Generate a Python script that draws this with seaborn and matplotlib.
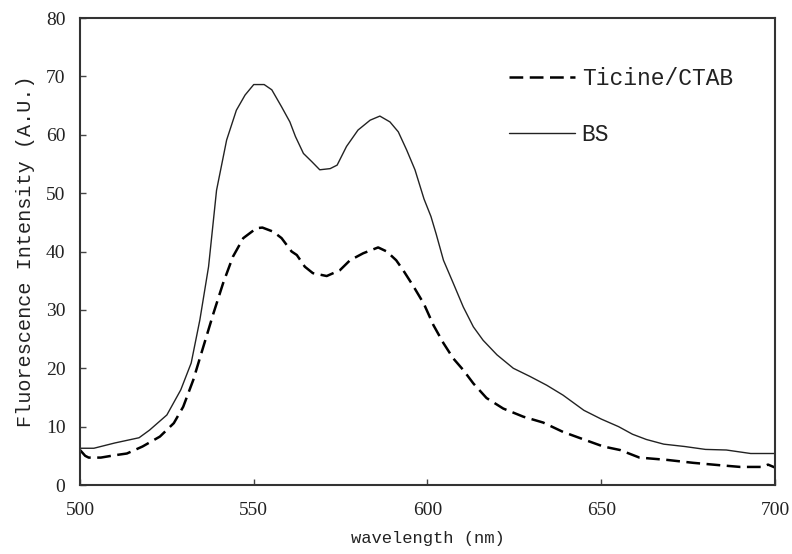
import matplotlib
matplotlib.use("Agg")
import matplotlib.pyplot as plt
import seaborn as sns
import pandas as pd

# Emission spectra (wavelength in nm, intensity in A.U.)
bs_wavelength = [500, 504, 510, 517, 520, 525, 529, 532, 534.5, 537, 539.3, 542.2, 545,
                 547.5, 550, 553, 555.2, 558, 560.4, 562, 564.3, 566.7, 569, 572, 574,
                 576.7, 580, 583.5, 586.3, 589.2, 591.6, 594, 596.4, 599, 601, 602.5,
                 604.6, 607.4, 610.3, 613.2, 616, 620, 624.7, 629.5, 634.3, 639, 645,
                 650, 655, 659, 663, 668, 674, 680, 686, 693, 700]
bs_intensity = [6.3, 6.3, 7.2, 8.1, 9.4, 12.0, 16.3, 20.9, 28.3, 37.4, 50.5, 59.1, 64.2,
                66.8, 68.6, 68.6, 67.7, 64.8, 62.2, 59.7, 56.8, 55.4, 54.0, 54.2, 54.8,
                58.0, 60.8, 62.5, 63.2, 62.2, 60.5, 57.4, 54.0, 49.0, 46.0, 43.0,
                38.5, 34.6, 30.5, 27.1, 24.8, 22.3, 20.0, 18.6, 17.1, 15.4, 12.8,
                11.3, 10.0, 8.7, 7.8, 7.0, 6.6, 6.1, 6.0, 5.4, 5.4]

ticine_wavelength = [500, 501.5, 502.5, 506, 510, 513.5, 518, 523, 527, 529.7, 532.6,
                     535.5, 538.4, 541.2, 544, 547, 550.8, 552.5, 555.6, 558, 560.9,
                     562.4, 564.7, 567, 571, 574.8, 577.7, 581.5, 585.8, 588.3, 591,
                     593, 596, 599, 601.7, 604.6, 607.4, 610.3, 613.2, 617, 621.8,
                     627.6, 633.3, 639, 645, 650.6, 655.4, 661, 669, 676.5, 684, 690,
                     696.5, 698, 700]
ticine_intensity = [6.0, 5.0, 4.7, 4.7, 5.1, 5.4, 6.6, 8.3, 10.6, 13.4, 18.0,
                    23.7, 29.4, 34.6, 39.1, 42.3, 44.0, 44.1, 43.4, 42.3, 40.0,
                    39.4, 37.4, 36.3, 35.8, 36.8, 38.5, 39.7, 40.7, 40.0, 38.5,
                    36.8, 34.0, 31.0, 27.4, 24.3, 21.7, 19.7, 17.4, 14.9, 13.1,
                    11.7, 10.7, 9.1, 7.8, 6.6, 6.0, 4.7, 4.3, 3.8, 3.4, 3.1,
                    3.1, 3.5, 3.0]

series_labels = ["Ticine/CTAB", "BS"]
x_ticks = [500, 550, 600, 650, 700]
y_ticks = [0, 10, 20, 30, 40, 50, 60, 70, 80]

bs = pd.DataFrame({"wavelength": bs_wavelength, "intensity": bs_intensity})
ticine = pd.DataFrame({"wavelength": ticine_wavelength, "intensity": ticine_intensity})

sns.set_style("white")
plt.rcParams["font.family"] = ["Liberation Mono", "DejaVu Sans Mono"]

fig = plt.figure(figsize=(7.92, 5.54), dpi=100)
ax = fig.add_axes([0.101, 0.1245, 0.8775, 0.843])

sns.lineplot(data=ticine, x="wavelength", y="intensity", ax=ax, color="black",
             linewidth=1.8, linestyle=(0, (5.5, 2.6)), estimator=None, sort=False,
             label=series_labels[0])
sns.lineplot(data=bs, x="wavelength", y="intensity", ax=ax, color="#222222",
             linewidth=1.0, estimator=None, sort=False, label=series_labels[1])

ax.set_xlim(500, 700)
ax.set_ylim(0, 80)
ax.set_xticks(x_ticks)
ax.set_yticks(y_ticks)
ax.tick_params(axis="both", direction="in", length=4.5, width=1.0, color="#444444",
               bottom=True, left=True, top=False, right=False)
ax.tick_params(axis="y", pad=10.5)
ax.tick_params(axis="x", pad=12)
for lab in ax.get_xticklabels() + ax.get_yticklabels():
    lab.set_fontfamily("Liberation Serif")
    lab.set_fontsize(14)
    lab.set_color("#222222")

for side in ["left", "bottom", "top", "right"]:
    ax.spines[side].set_visible(True)
    ax.spines[side].set_color("#333333")
    ax.spines[side].set_linewidth(1.5)

ax.set_xlabel("wavelength (nm)", fontsize=12.3, color="#222222", labelpad=9)
ax.set_ylabel("Fluorescence Intensity (A.U.)", fontsize=14.5, color="#222222",
              labelpad=8)

leg = ax.legend(loc="center left", bbox_to_anchor=(0.618, 0.810), frameon=False,
                fontsize=16.5, handlelength=2.85, handletextpad=0.3,
                labelspacing=1.45, borderpad=0, borderaxespad=0)
for t in leg.get_texts():
    t.set_color("#222222")

fig.savefig("out.png", dpi=100, facecolor="white")
